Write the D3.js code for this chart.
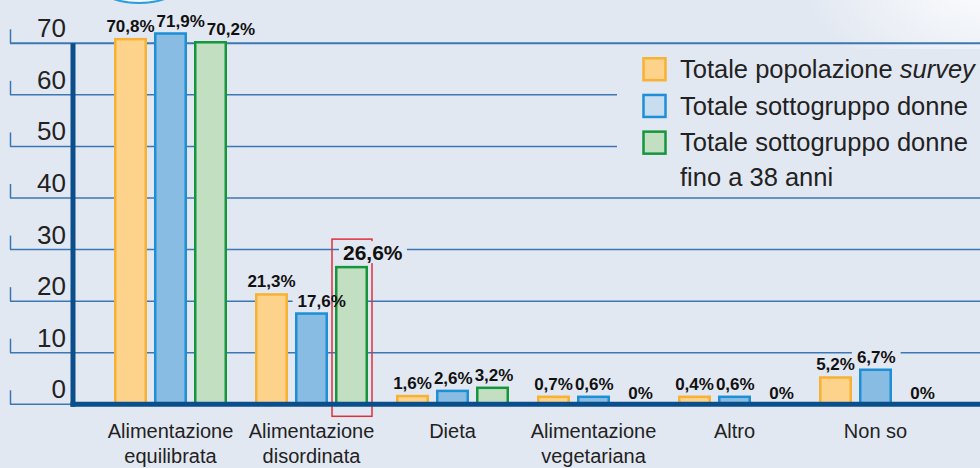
<!DOCTYPE html>
<html>
<head>
<meta charset="utf-8">
<style>
body { margin: 0; background: #E2E8F2; }
svg { display: block; }
.tick-label { font: 26px "Liberation Sans", Arial, sans-serif; fill: #222; }
.cat-label { font: 20px "Liberation Sans", Arial, sans-serif; fill: #222; }
.value-label { font: bold 17px "Liberation Sans", Arial, sans-serif; fill: #111; }
.legend-label { font: 25.5px "Liberation Sans", Arial, sans-serif; fill: #222; }
</style>
</head>
<body>
<svg width="980" height="468"></svg>
<script src="https://d3js.org/d3.v7.min.js"></script>
<script>
// categories (| = line break)
var categories = ["Alimentazione|equilibrata", "Alimentazione|disordinata", "Dieta",
                  "Alimentazione|vegetariana", "Altro", "Non so"];
var seriesKeys = ["popolazione", "donne", "donne38"];
// values in %
var popolazione = [70.8, 21.3, 1.6, 0.7, 0.4, 5.2];
var donne       = [71.9, 17.6, 2.6, 0.6, 0.6, 6.7];
var donne38     = [70.2, 26.6, 3.2, 0, 0, 0];
var yTicks = [0, 10, 20, 30, 40, 50, 60, 70];
// legend text, *...* = italic
var legendLabels = [["Totale popolazione *survey*"], ["Totale sottogruppo donne"],
                    ["Totale sottogruppo donne", "fino a 38 anni"]];
// highlighted bar: category 1, series 2
var highlight = {cat: 1, series: 2};

var seriesValues = [popolazione, donne, donne38];
var fills   = ["#FDD38B", "#88BCE2", "#C3DFC1"];
var strokes = ["#F7B133", "#1C8FD6", "#15963C"];
var legendFills = ["#FDD38B", "#C9DDF1", "#C3DFC1"];
var bg = "#E2E8F2";

var svg = d3.select("svg"),
    width = +svg.attr("width"),
    height = +svg.attr("height");

var axisX = 73, y0px = 404.3, minBar = 7.5;

var y = d3.scaleLinear().domain([0, 70]).range([y0px, 43.3]);
var x0 = d3.scaleBand().domain(d3.range(categories.length)).range([100, 946]);
var x1 = d3.scaleBand().domain(seriesKeys).range([-63.5, 63.5]).padding(0.175);

function cx(i) { return x0(i) + x0.bandwidth() / 2; }
// very small bars get a minimum visible height, as in the original
function barTop(v) { return Math.min(y(v), y0px - minBar); }

// background + decorations
var defs = svg.append("defs");
var glow = defs.append("radialGradient").attr("id", "glow")
    .attr("cx", "50%").attr("cy", "50%").attr("r", "50%");
glow.append("stop").attr("offset", "0%").attr("stop-color", "#fff").attr("stop-opacity", 1);
glow.append("stop").attr("offset", "100%").attr("stop-color", "#fff").attr("stop-opacity", 0);

svg.append("rect").attr("width", width).attr("height", height).attr("fill", bg);
svg.append("ellipse").attr("cx", 990).attr("cy", -30).attr("rx", 190).attr("ry", 130)
    .attr("fill", "url(#glow)");
svg.append("ellipse").attr("cx", 139).attr("cy", -22).attr("rx", 47).attr("ry", 25)
    .attr("fill", "#F4F7FB").attr("stroke", "#2B9EDC").attr("stroke-width", 2);

// gridlines + small ticks
var grid = svg.append("g");
grid.selectAll("line.grid").data(yTicks).enter().append("line")
    .attr("x1", 10).attr("x2", width)
    .attr("y1", function(d) { return y(d); }).attr("y2", function(d) { return y(d); })
    .attr("stroke", "#3B77B4").attr("stroke-width", function(d) { return d === 70 ? 2 : 1.5; });
grid.selectAll("line.tk").data(yTicks).enter().append("line")
    .attr("x1", 10.5).attr("x2", 10.5)
    .attr("y1", function(d) { return y(d) - 14; }).attr("y2", function(d) { return y(d); })
    .attr("stroke", "#3B77B4").attr("stroke-width", 1.5);

svg.append("g").selectAll("text").data(yTicks).enter().append("text")
    .attr("class", "tick-label")
    .attr("x", 66).attr("y", function(d) { return y(d) - 6; })
    .attr("text-anchor", "end")
    .text(function(d) { return d; });

var labelBg = svg.append("g");

// legend box hides gridlines behind it
svg.append("rect").attr("x", 617).attr("y", 49).attr("width", width - 617).attr("height", 143)
    .attr("fill", bg);

// highlight box
var hx = cx(highlight.cat) + x1(seriesKeys[highlight.series]);
var hv = seriesValues[highlight.series][highlight.cat];
svg.append("rect")
    .attr("x", hx - 3).attr("y", y(hv) - 28)
    .attr("width", x1.bandwidth() + 7).attr("height", y0px + 12 - (y(hv) - 28))
    .attr("fill", "none").attr("stroke", "#E0303A").attr("stroke-width", 1.5);

var highlightBg = svg.append("g");

// bars
var cells = [];
seriesKeys.forEach(function(k, s) {
  seriesValues[s].forEach(function(v, i) { cells.push({s: s, key: k, i: i, v: v}); });
});

svg.append("g").selectAll("rect").data(cells.filter(function(d) { return d.v > 0; }))
  .enter().append("rect")
    .attr("x", function(d) { return cx(d.i) + x1(d.key) + 1.25; })
    .attr("y", function(d) { return barTop(d.v); })
    .attr("width", x1.bandwidth() - 2.5)
    .attr("height", function(d) { return y0px - barTop(d.v); })
    .attr("fill", function(d) { return fills[d.s]; })
    .attr("stroke", function(d) { return strokes[d.s]; })
    .attr("stroke-width", 2.5);

// axes
svg.append("line").attr("x1", axisX).attr("x2", axisX).attr("y1", y(70)).attr("y2", y0px + 2.5)
    .attr("stroke", "#0A4E8B").attr("stroke-width", 5);
svg.append("line").attr("x1", axisX - 2.5).attr("x2", width).attr("y1", y0px).attr("y2", y0px)
    .attr("stroke", "#0A4E8B").attr("stroke-width", 5);

// category labels
var cat = svg.append("g").selectAll("text").data(categories).enter().append("text")
    .attr("class", "cat-label").attr("text-anchor", "middle");
cat.each(function(d, i) {
  var t = d3.select(this);
  d.split("|").forEach(function(line, j) {
    t.append("tspan").attr("x", cx(i)).attr("y", 438 + j * 25).text(line);
  });
});

// value labels
function fmt(v) { return String(v).replace(".", ",") + "%"; }
var valG = svg.append("g");
categories.forEach(function(c, i) {
  var prevRight = -Infinity;
  seriesKeys.forEach(function(k, s) {
    var v = seriesValues[s][i];
    var isHi = (i === highlight.cat && s === highlight.series);
    var bx = cx(i) + x1(k);
    var base = v > 0 ? barTop(v) - 7 : y0px - 5;
    var t = valG.append("text").attr("class", "value-label").text(fmt(v));
    if (isHi) {
      t.style("font-size", "21px").attr("x", bx + 8).attr("y", base);
      var bb = t.node().getBBox();
      highlightBg.append("rect").attr("x", bb.x - 4).attr("y", base - 19)
          .attr("width", bb.width + 8).attr("height", 22).attr("fill", bg);
      return;
    }
    var w = t.node().getComputedTextLength();
    var left = bx + x1.bandwidth() / 2 - w / 2 + (v === 0 ? 7 : 0);
    if (left < prevRight + 2) left = prevRight + 2;
    prevRight = left + w;
    t.attr("x", left).attr("y", base);
    labelBg.append("rect").attr("x", left - 5).attr("y", base - 14)
        .attr("width", w + 10).attr("height", 16).attr("fill", bg);
  });
});

// legend
var lg = svg.append("g");
legendLabels.forEach(function(lines, s) {
  var top = 57 + s * 36.7;
  lg.append("rect").attr("x", 643.5).attr("y", top + 1.25).attr("width", 22).attr("height", 22)
      .attr("fill", legendFills[s]).attr("stroke", strokes[s]).attr("stroke-width", 2.5);
  lines.forEach(function(line, j) {
    var t = lg.append("text").attr("class", "legend-label")
        .attr("x", 680).attr("y", top + 21 + j * 35);
    line.split("*").forEach(function(part, p) {
      if (!part) return;
      t.append("tspan").style("font-style", p % 2 ? "italic" : "normal").text(part);
    });
  });
});
</script>
</body>
</html>
